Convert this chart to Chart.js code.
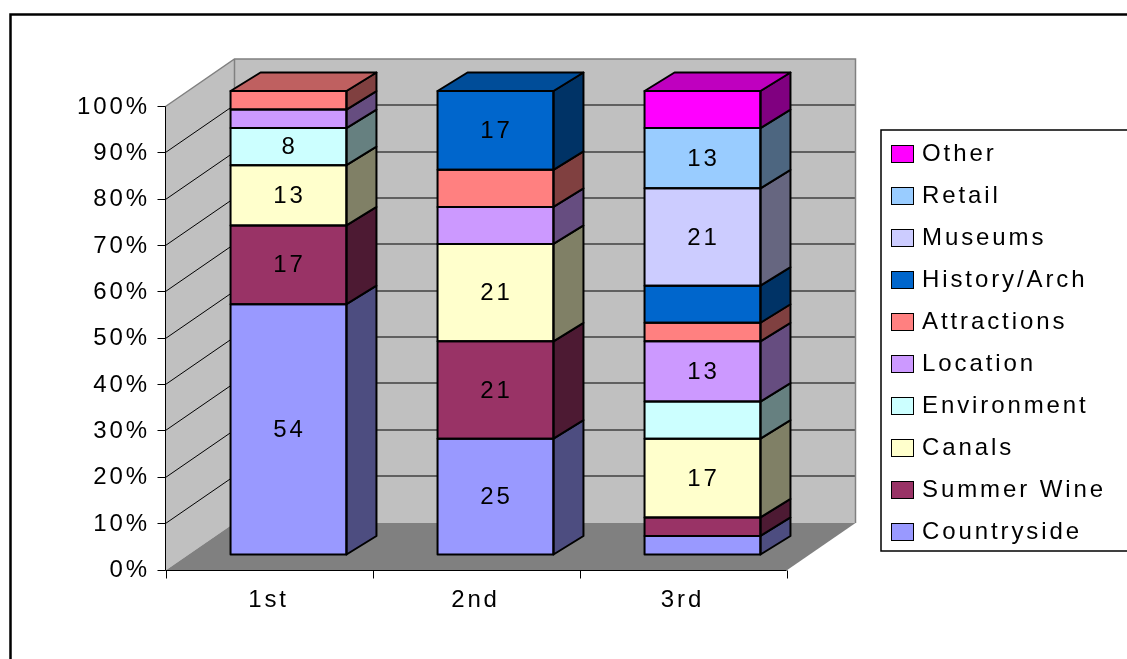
<!DOCTYPE html>
<html>
<head>
<meta charset="utf-8">
<script src="https://cdn.jsdelivr.net/npm/chart.js@4.4.1/dist/chart.umd.min.js"></script>
<style>
    html, body { margin: 0; padding: 0; background: #ffffff; }
    canvas { display: block; }
</style>
</head>
<body>
<canvas id="graficoPosicoes" width="1127" height="659"></canvas>
<script>
// Dados: percentual de cada tema por posição
const categorias = ["1st", "2nd", "3rd"];
const nomesSeries = ["Countryside", "Summer Wine", "Canals", "Environment", "Location",
    "Attractions", "History/Arch", "Museums", "Retail", "Other"];
const countryside = [54, 25, 4];
const summerWine = [17, 21, 4];
const canals = [13, 21, 17];
const environment = [8, 0, 8];
const locationVals = [4, 8, 13];
const attractions = [4, 8, 4];
const historyArch = [0, 17, 8];
const museums = [0, 0, 21];
const retail = [0, 0, 13];
const other = [0, 0, 8];
const ticksY = [0, 10, 20, 30, 40, 50, 60, 70, 80, 90, 100];

// Quais segmentos mostram o valor (por categoria)
const rotulosVisiveis = [
    ["Countryside", "Summer Wine", "Canals", "Environment"],
    ["Countryside", "Summer Wine", "Canals", "History/Arch"],
    ["Canals", "Location", "Museums", "Retail"]
];

const cores = ["#9999FF", "#993366", "#FFFFCC", "#CCFFFF", "#CC99FF",
    "#FF8080", "#0066CC", "#CCCCFF", "#99CCFF", "#FF00FF"];

const valoresSeries = [countryside, summerWine, canals, environment, locationVals,
    attractions, historyArch, museums, retail, other];

const FONTE = "'Liberation Sans', Arial, sans-serif";
const TAM_FONTE = 24;
const ESPACO_LETRAS = "2.9px";
const FRENTE = { dx: -20, dy: 15 };     // plano das colunas -> plano frontal dos eixos
const PROF = { dx: 69, dy: -47.5 };     // profundidade total (parede do fundo)
const BARRA = { dx: 30, dy: -18.5 };    // profundidade de cada coluna

function escurecer(hex, f) {
    const n = parseInt(hex.slice(1), 16);
    const r = Math.round(((n >> 16) & 255) * f);
    const g = Math.round(((n >> 8) & 255) * f);
    const b = Math.round((n & 255) * f);
    return `rgb(${r},${g},${b})`;
}

function poligono(ctx, pts, fill, stroke, lw) {
    ctx.beginPath();
    ctx.moveTo(pts[0][0], pts[0][1]);
    for (let i = 1; i < pts.length; i++) ctx.lineTo(pts[i][0], pts[i][1]);
    ctx.closePath();
    if (fill) { ctx.fillStyle = fill; ctx.fill(); }
    if (stroke) { ctx.strokeStyle = stroke; ctx.lineWidth = lw || 1; ctx.stroke(); }
}

function linha(ctx, pts, cor, lw) {
    ctx.beginPath();
    ctx.moveTo(pts[0][0], pts[0][1]);
    for (let i = 1; i < pts.length; i++) ctx.lineTo(pts[i][0], pts[i][1]);
    ctx.strokeStyle = cor;
    ctx.lineWidth = lw || 1;
    ctx.stroke();
}

// Paredes, piso, grade e colunas em 3D
const efeito3D = {
    id: "efeito3D",
    beforeDraw(chart) {
        const ctx = chart.ctx;
        ctx.fillStyle = "#ffffff";
        ctx.fillRect(0, 0, chart.width, chart.height);
        ctx.letterSpacing = ESPACO_LETRAS;
    },
    beforeDatasetsDraw(chart) {
        const ctx = chart.ctx;
        const area = chart.chartArea;
        const escalaY = chart.scales.y;
        const fx0 = Math.round(area.left + FRENTE.dx) + 0.5;
        const fx1 = Math.round(area.right + FRENTE.dx) + 0.5;
        const fy = v => Math.round(escalaY.getPixelForValue(v) + FRENTE.dy) + 0.5;
        const y0 = fy(0), y100 = fy(100);
        const bx0 = fx0 + PROF.dx, bx1 = fx1 + PROF.dx;

        ctx.save();
        // parede lateral
        poligono(ctx, [[fx0, y0], [fx0, y100], [bx0, y100 + PROF.dy], [bx0, y0 + PROF.dy]], "#C0C0C0");
        // parede do fundo
        poligono(ctx, [[bx0, y100 + PROF.dy], [bx1, y100 + PROF.dy], [bx1, y0 + PROF.dy], [bx0, y0 + PROF.dy]], "#C0C0C0");
        // piso
        poligono(ctx, [[fx0, y0], [fx1, y0], [bx1, y0 + PROF.dy], [bx0, y0 + PROF.dy]], "#808080");

        // linhas de grade
        ticksY.forEach(v => {
            if (v === 0 || v === 100) return;
            const y = fy(v);
            linha(ctx, [[fx0, y], [bx0, y + PROF.dy], [bx1, y + PROF.dy]], "#000000", 1);
        });

        // bordas das paredes
        linha(ctx, [[fx0, y100], [bx0, y100 + PROF.dy], [bx1, y100 + PROF.dy], [bx1, y0 + PROF.dy]], "#808080", 1.5);
        linha(ctx, [[bx0, y100 + PROF.dy], [bx0, y0 + PROF.dy]], "#808080", 1.5);

        // eixos e marcas
        linha(ctx, [[fx0, y100], [fx0, y0], [fx1, y0]], "#000000", 1);
        ticksY.forEach(v => linha(ctx, [[fx0 - 8, fy(v)], [fx0, fy(v)]], "#000000", 1));
        for (let i = 0; i <= categorias.length; i++) {
            const x = Math.round(fx0 + i * (fx1 - fx0) / categorias.length) + 0.5;
            linha(ctx, [[x, y0], [x, y0 + 8]], "#000000", 1);
        }
        ctx.restore();
    },
    afterDatasetsDraw(chart) {
        const ctx = chart.ctx;
        ctx.save();
        ctx.lineJoin = "round";
        categorias.forEach((cat, i) => {
            let topo = null;
            chart.data.datasets.forEach((ds, d) => {
                const v = ds.data[i];
                if (!v) return;
                const el = chart.getDatasetMeta(d).data[i];
                const esq = el.x - el.width / 2, dir = el.x + el.width / 2;
                const cima = Math.min(el.y, el.base), baixo = Math.max(el.y, el.base);
                // face lateral
                poligono(ctx, [[dir, cima], [dir + BARRA.dx, cima + BARRA.dy],
                    [dir + BARRA.dx, baixo + BARRA.dy], [dir, baixo]], escurecer(ds.backgroundColor, 0.5), "#000000", 2);
                // contorno da face frontal
                ctx.strokeStyle = "#000000";
                ctx.lineWidth = 2;
                ctx.strokeRect(esq, cima, el.width, baixo - cima);
                topo = { esq, dir, cima, cor: ds.backgroundColor };
            });
            if (topo) {
                poligono(ctx, [[topo.esq, topo.cima], [topo.esq + BARRA.dx, topo.cima + BARRA.dy],
                    [topo.dir + BARRA.dx, topo.cima + BARRA.dy], [topo.dir, topo.cima]],
                    escurecer(topo.cor, 0.75), "#000000", 2);
            }
        });

        // valores dentro das colunas
        ctx.font = `${TAM_FONTE}px ${FONTE}`;
        ctx.fillStyle = "#000000";
        ctx.textAlign = "center";
        ctx.textBaseline = "middle";
        categorias.forEach((cat, i) => {
            chart.data.datasets.forEach((ds, d) => {
                if (!rotulosVisiveis[i].includes(ds.label)) return;
                const el = chart.getDatasetMeta(d).data[i];
                const meio = (el.y + el.base) / 2;
                ctx.fillText(String(ds.data[i]), el.x + 1, meio + 1);
            });
        });
        ctx.restore();
    },
    afterDraw(chart) {
        const ctx = chart.ctx;
        ctx.save();
        // moldura externa
        ctx.strokeStyle = "#000000";
        ctx.lineWidth = 2.5;
        ctx.strokeRect(10.5, 14.5, 1300, 800);

        // legenda (ordem inversa)
        ctx.lineWidth = 1.5;
        ctx.strokeRect(881, 130, 400, 421);
        ctx.font = `${TAM_FONTE}px ${FONTE}`;
        ctx.textAlign = "left";
        ctx.textBaseline = "middle";
        const dsets = chart.data.datasets;
        for (let k = 0; k < dsets.length; k++) {
            const ds = dsets[dsets.length - 1 - k];
            const y = 153 + k * 42;
            ctx.fillStyle = ds.backgroundColor;
            ctx.fillRect(891.5, Math.round(y - 8) + 0.5, 22, 17);
            ctx.strokeStyle = "#000000";
            ctx.lineWidth = 1;
            ctx.strokeRect(891.5, Math.round(y - 8) + 0.5, 22, 17);
            ctx.fillStyle = "#000000";
            ctx.fillText(ds.label, 922, y + 1);
        }
        ctx.restore();
    }
};

const ctx = document.getElementById("graficoPosicoes").getContext("2d");

const grafico = new Chart(ctx, {
    type: "bar",
    data: {
        labels: categorias,
        datasets: nomesSeries.map((nome, d) => ({
            label: nome,
            data: valoresSeries[d],
            backgroundColor: cores[d],
            borderWidth: 0,
            categoryPercentage: 0.56,
            barPercentage: 1
        }))
    },
    options: {
        responsive: false,
        animation: false,
        devicePixelRatio: 1,
        layout: { padding: { left: 0, right: 1127 - 806, top: 91, bottom: 0 } },
        plugins: {
            legend: { display: false },
            tooltip: { enabled: false }
        },
        scales: {
            x: {
                stacked: true,
                grid: { display: false, drawTicks: false },
                border: { display: false },
                ticks: {
                    color: "#000000",
                    font: { family: FONTE, size: TAM_FONTE },
                    padding: 31,
                    labelOffset: -20,
                    maxRotation: 0
                },
                afterFit: escala => { escala.height = 659 - 554.5; }
            },
            y: {
                stacked: true,
                min: 0,
                max: 100,
                grid: { display: false, drawTicks: false },
                border: { display: false },
                ticks: {
                    color: "#000000",
                    font: { family: FONTE, size: TAM_FONTE },
                    padding: 35,
                    labelOffset: 16,
                    callback: v => v + "%"
                },
                afterBuildTicks: escala => { escala.ticks = ticksY.map(v => ({ value: v })); },
                afterFit: escala => { escala.width = 185; }
            }
        }
    },
    plugins: [efeito3D]
});
</script>
</body>
</html>
